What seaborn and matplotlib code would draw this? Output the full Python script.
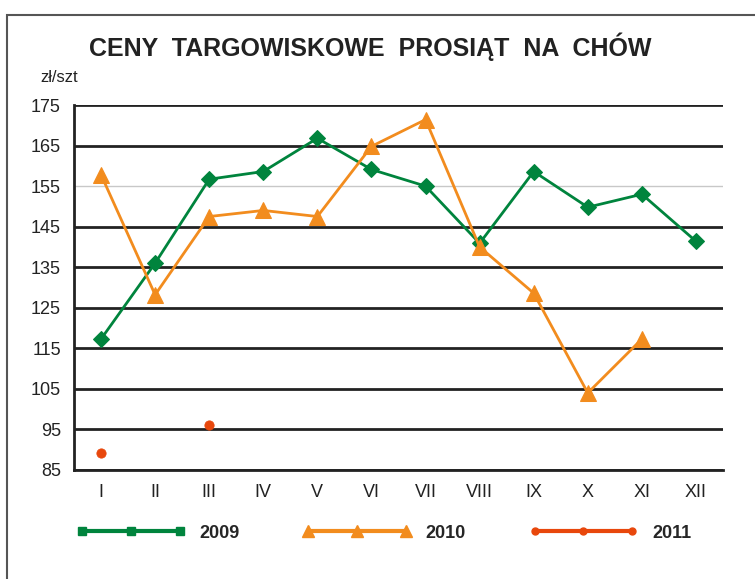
import seaborn as sns
import matplotlib.pyplot as plt
import matplotlib.patches as mpatches
from matplotlib.lines import Line2D
import numpy as np
import pandas as pd

months = ['I', 'II', 'III', 'IV', 'V', 'VI', 'VII', 'VIII', 'IX', 'X', 'XI', 'XII']
ceny_2009 = [117.3, 136.0, 156.7, 158.6, 166.8, 159.1, 155.0, 140.9, 158.6, 149.8, 153.0, 141.4]
ceny_2010 = [157.8, 128.2, 147.5, 149.0, 147.5, 164.8, 171.4, 140.0, 128.6, 104.0, 117.3, np.nan]
ceny_2011 = [89.2, np.nan, 96.1, np.nan, np.nan, np.nan, np.nan, np.nan, np.nan, np.nan, np.nan, np.nan]
y_ticks = [85, 95, 105, 115, 125, 135, 145, 155, 165, 175]

green = '#00843D'
orange = '#F28C1E'
red = '#E8470C'

sns.set_style('white')
plt.rcParams['font.family'] = ['Liberation Sans Narrow', 'Liberation Sans', 'DejaVu Sans']

df = pd.DataFrame({'pos': range(12), 'm': months,
                   '2009': ceny_2009, '2010': ceny_2010, '2011': ceny_2011})

fig = plt.figure(figsize=(7.55, 5.79), dpi=100)
ax = fig.add_axes([74 / 755, 1 - 470 / 579, 649 / 755, 365 / 579])

sns.lineplot(data=df, x='pos', y='2009', ax=ax, color=green, lw=2,
             marker='D', markersize=8, markeredgecolor=green)
sns.lineplot(data=df.dropna(subset=['2010']), x='pos', y='2010', ax=ax, color=orange, lw=2,
             marker='^', markersize=12, markeredgecolor=orange)
sns.scatterplot(data=df, x='pos', y='2011', ax=ax, color=red, s=45, edgecolor=red)

ax.set_xlim(-0.5, 11.5)
ax.set_ylim(85, 175)
ax.set_yticks(y_ticks)
ax.set_xticks(range(12))
ax.set_xticklabels(months)
ax.set_xticks(np.arange(-0.5, 12, 1), minor=True)
ax.tick_params(axis='x', which='major', length=0, labelsize=13, pad=10, colors='#222')
ax.tick_params(axis='x', which='minor', length=8, width=1.5, direction='out', color='#222')
ax.tick_params(axis='y', length=6, width=1.5, direction='out', labelsize=13, colors='#222')
ax.set_xlabel('')
ax.set_ylabel('')

ax.yaxis.grid(True, color='#222', lw=2)
for gl, v in zip(ax.get_ygridlines(), y_ticks):
    if v == 155:
        gl.set_color('#c8c8c8')
        gl.set_linewidth(1)
ax.set_axisbelow(True)

for s in ['top', 'right']:
    ax.spines[s].set_visible(False)
for s in ['left', 'bottom']:
    ax.spines[s].set_color('#222')
    ax.spines[s].set_linewidth(2)

fig.text(370 / 755, 1 - 47 / 579, 'CENY  TARGOWISKOWE  PROSIĄT  NA  CHÓW', ha='center', va='center',
         fontsize=18, fontweight='bold', color='#222')
fig.text(40 / 755, 1 - 78 / 579, 'zł/szt', ha='left', va='center', fontsize=12, color='#222')

handles = [
    Line2D([], [], color=green, lw=3, marker='s', markersize=6),
    Line2D([], [], color=orange, lw=3, marker='^', markersize=9),
    Line2D([], [], color=red, lw=3, marker='o', markersize=5),
]
fig.legend(handles, ['2009', '2010', '2011'], loc='center', bbox_to_anchor=(384 / 755, 1 - 533 / 579),
           ncol=3, frameon=False, numpoints=3, handlelength=6, columnspacing=3.5,
           prop={'weight': 'bold', 'size': 13})

fig.patches.append(mpatches.Rectangle((7 / 755, -0.01), 1.0, 1 - 15 / 579 + 0.01,
                                      transform=fig.transFigure, fill=False,
                                      edgecolor='#555', lw=1.5))

fig.savefig('out.png', dpi=100)
